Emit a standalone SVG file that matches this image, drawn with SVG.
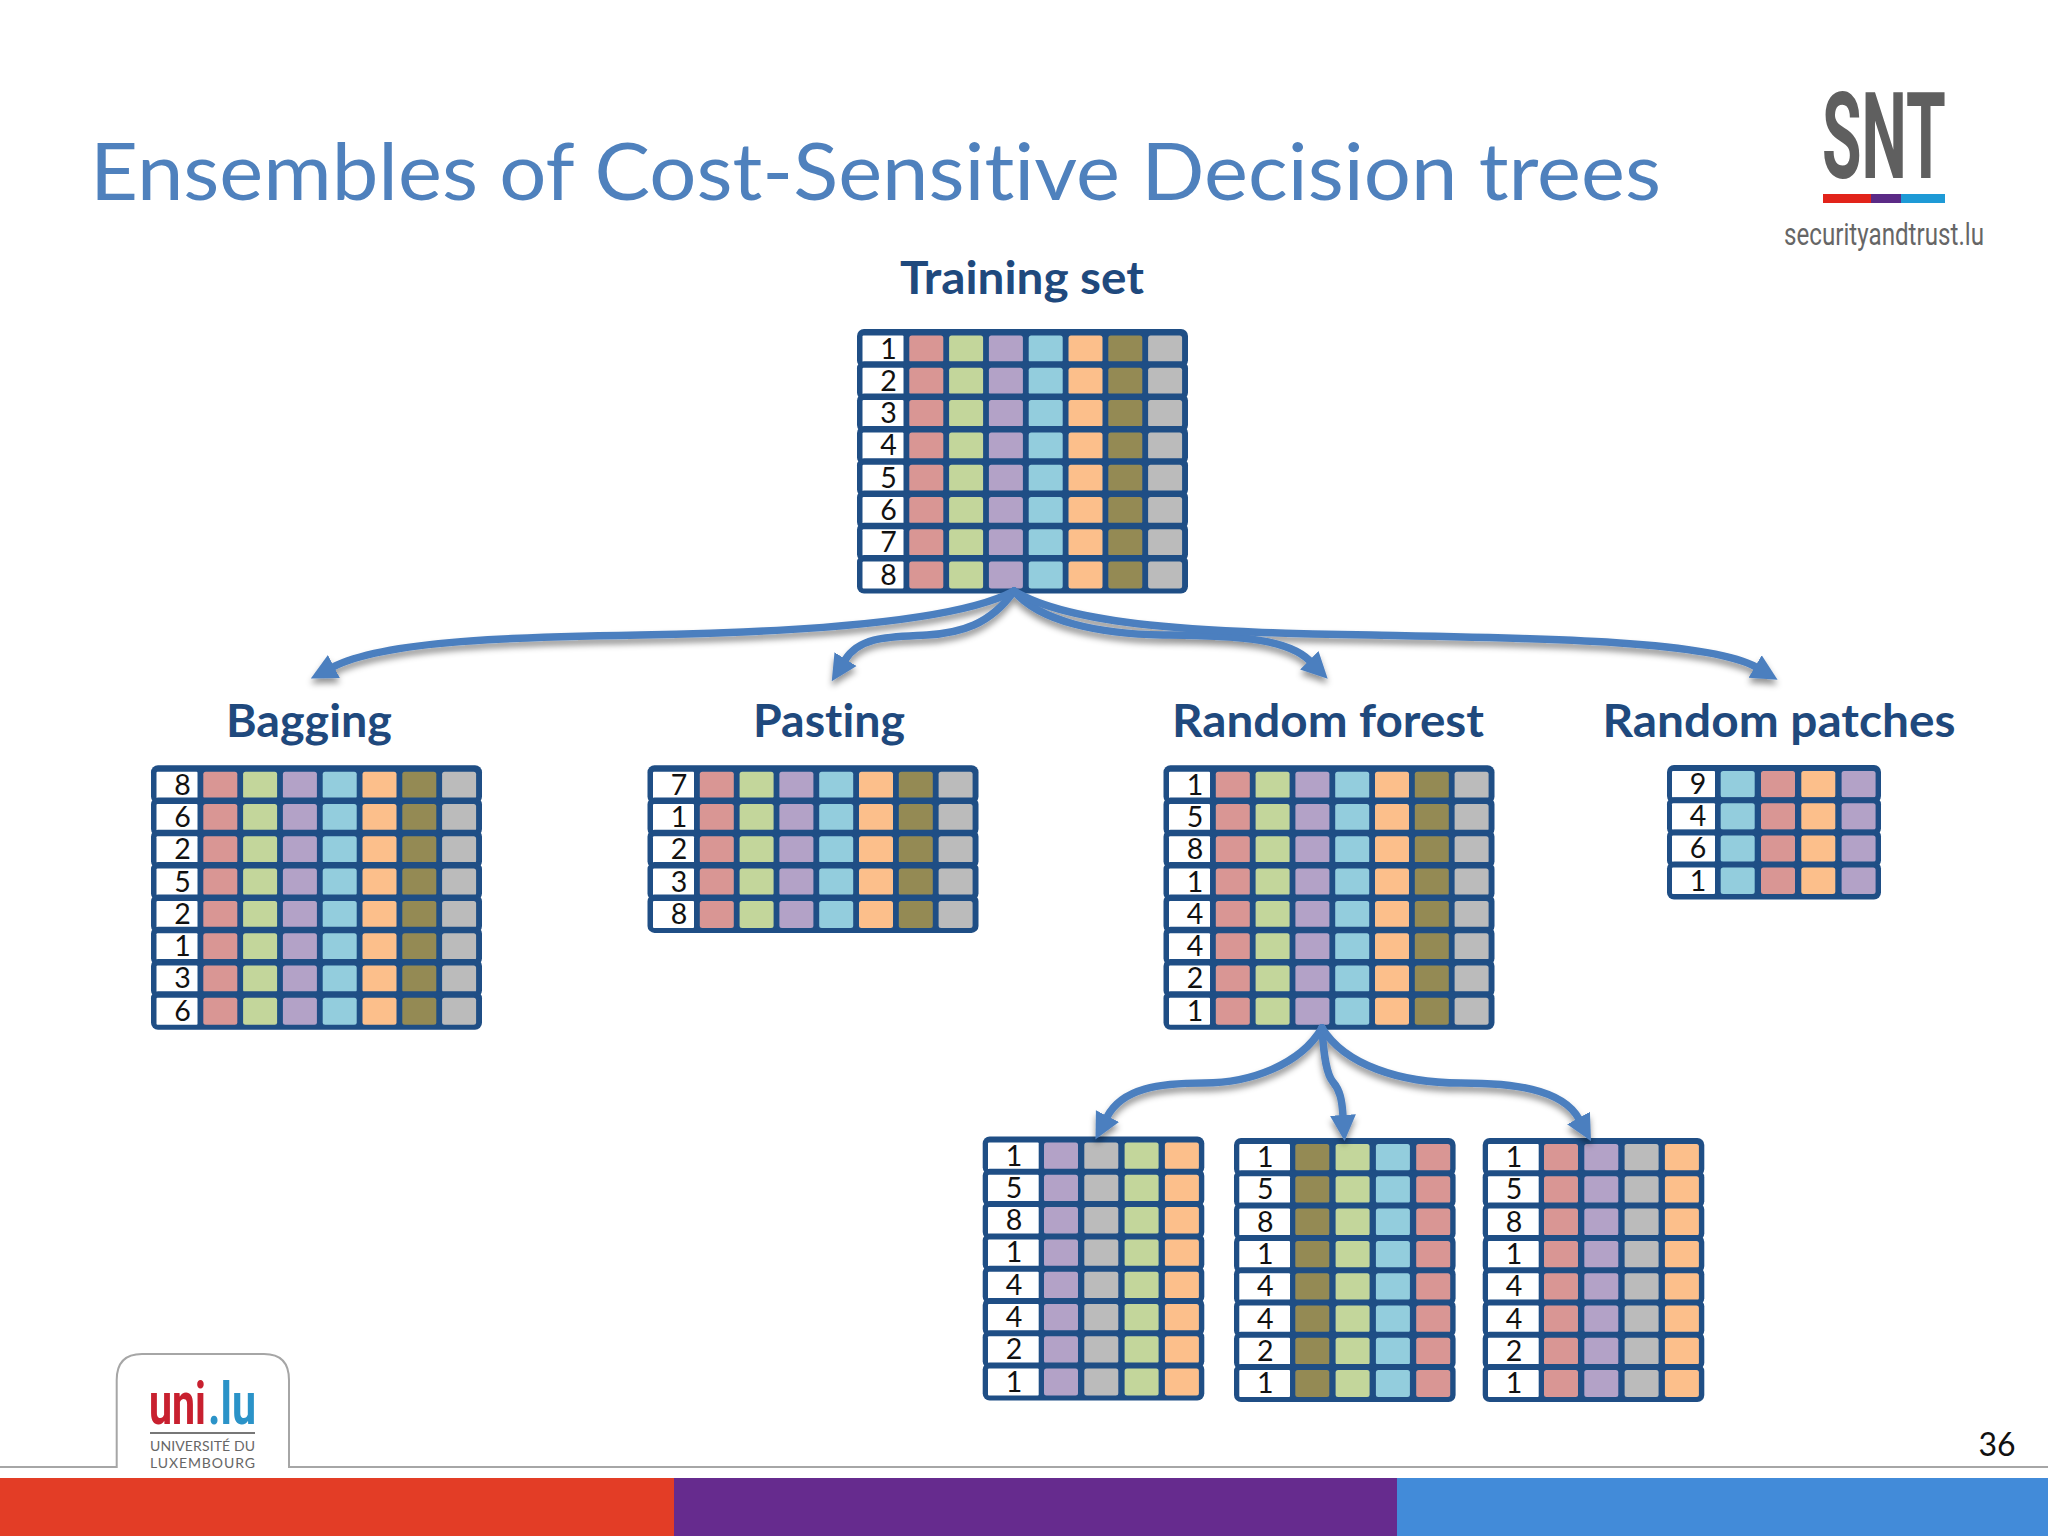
<svg xmlns="http://www.w3.org/2000/svg" width="2048" height="1536" viewBox="0 0 2048 1536">
<style>
.d{fill:#1f4e85}.w{fill:#fff}.r{fill:#d99694}.g{fill:#c3d69b}.p{fill:#b3a2c7}.c{fill:#93cddd}.o{fill:#fcbf8b}.l{fill:#948a54}.y{fill:#bbb}
.n{font:28.5px Lato,"Liberation Sans",sans-serif;fill:#111;text-anchor:middle}
.h{font:700 46px Lato,"Liberation Sans",sans-serif;fill:#1f497d}
text{font-variant-ligatures:none !important}
.a{fill:none;stroke:#4c7fbf;stroke-width:7.5;stroke-linecap:round}
</style>
<defs>
<marker id="head" markerUnits="userSpaceOnUse" markerWidth="28" markerHeight="30" refX="1" refY="15" orient="auto"><path d="M0,2 L26,15 L0,28z" fill="#4c7fbf"/></marker>
<filter id="shadow" x="-5%" y="-20%" width="110%" height="150%"><feDropShadow dx="0" dy="5" stdDeviation="3" flood-color="#000" flood-opacity=".42"/></filter>
<g id="r7"><rect class="d" x="-5.5" y="-6.5" width="331" height="38.5" rx="7"/><rect class="w" width="41" height="27" rx="1"/><rect class="r" x="46.8" width="34" height="27" rx="2.5"/><rect class="g" x="86.6" width="34" height="27" rx="2.5"/><rect class="p" x="126.4" width="34" height="27" rx="2.5"/><rect class="c" x="166.2" width="34" height="27" rx="2.5"/><rect class="o" x="206" width="34" height="27" rx="2.5"/><rect class="l" x="245.8" width="34" height="27" rx="2.5"/><rect class="y" x="285.6" width="34" height="27" rx="2.5"/></g>
<g id="rp"><rect class="d" x="-5" y="-6" width="214" height="38" rx="7"/><rect class="w" width="43" height="26.5" rx="1"/><rect class="c" x="48.7" width="34" height="26.5" rx="2.5"/><rect class="r" x="89" width="34" height="26.5" rx="2.5"/><rect class="o" x="129.3" width="34" height="26.5" rx="2.5"/><rect class="p" x="169.6" width="34" height="26.5" rx="2.5"/></g>
<g id="s1"><rect class="d" x="-5.3" y="-6" width="221.6" height="38" rx="7"/><rect class="w" width="50.7" height="27" rx="1"/><rect class="p" x="56" width="34" height="27" rx="2.5"/><rect class="y" x="96.3" width="34" height="27" rx="2.5"/><rect class="g" x="136.6" width="34" height="27" rx="2.5"/><rect class="o" x="176.9" width="34" height="27" rx="2.5"/></g>
<g id="s2"><rect class="d" x="-5.3" y="-6" width="221.6" height="38" rx="7"/><rect class="w" width="50.7" height="27" rx="1"/><rect class="l" x="56" width="34" height="27" rx="2.5"/><rect class="g" x="96.3" width="34" height="27" rx="2.5"/><rect class="c" x="136.6" width="34" height="27" rx="2.5"/><rect class="r" x="176.9" width="34" height="27" rx="2.5"/></g>
<g id="s3"><rect class="d" x="-5.3" y="-6" width="221.6" height="38" rx="7"/><rect class="w" width="50.7" height="27" rx="1"/><rect class="r" x="56" width="34" height="27" rx="2.5"/><rect class="p" x="96.3" width="34" height="27" rx="2.5"/><rect class="y" x="136.6" width="34" height="27" rx="2.5"/><rect class="o" x="176.9" width="34" height="27" rx="2.5"/></g>
</defs>
<rect width="2048" height="1536" fill="#fff"/>
<text x="90" y="200" font-family="Lato,'Liberation Sans',sans-serif" font-size="80" fill="#4f81bd" textLength="1571" lengthAdjust="spacingAndGlyphs">Ensembles of Cost-Sensitive Decision trees</text>

<g id="snt-logo">
<text transform="translate(1822,178) scale(.535,1)" font-family="Roboto,'Liberation Sans',sans-serif" font-weight="700" font-size="120" fill="#5f5f5f">SNT</text>
<rect x="1823" y="194" width="48" height="9" fill="#e2231a"/><rect x="1871" y="194" width="30" height="9" fill="#5b2a86"/><rect x="1901" y="194" width="44" height="9" fill="#1e9ad6"/>
<text x="1784" y="245" font-family="Roboto,'Liberation Sans',sans-serif" font-size="31" fill="#666" textLength="200" lengthAdjust="spacingAndGlyphs">securityandtrust.lu</text>
</g>

<g id="footer">
<rect y="1478" width="674" height="58" fill="#e33d26"/><rect x="674" y="1478" width="723" height="58" fill="#662b8e"/><rect x="1397" y="1478" width="651" height="58" fill="#428bd9"/>
<path d="M0,1467 H116.700 V1380 Q116.700,1354 142,1354 H264 Q289,1354 289,1380 V1467 H2048" fill="#fff" stroke="#a6a6a6" stroke-width="2"/>
<text x="1997" y="1456" font-family="Lato,'Liberation Sans',sans-serif" font-size="32" fill="#111" text-anchor="middle">36</text>
</g>

<g id="uni-logo">
<text x="149" y="1424" font-family="Roboto,'Liberation Sans',sans-serif" font-weight="700" font-size="60" fill="#c8202f" textLength="57" lengthAdjust="spacingAndGlyphs">uni</text>
<text x="208" y="1424" font-family="Roboto,'Liberation Sans',sans-serif" font-weight="700" font-size="60" fill="#2b93c8" textLength="48" lengthAdjust="spacingAndGlyphs">.lu</text>
<rect x="150" y="1432" width="105" height="2" fill="#777"/>
<text x="150" y="1451" font-family="Lato,'Liberation Sans',sans-serif" font-size="14" fill="#666" textLength="105">UNIVERSITÉ DU</text>
<text x="150" y="1468" font-family="Lato,'Liberation Sans',sans-serif" font-size="14" fill="#666" textLength="105">LUXEMBOURG</text>
</g>

<g id="training-set">
<text class="h" x="1022" y="294" text-anchor="middle" textLength="244" lengthAdjust="spacingAndGlyphs">Training set</text>
<g transform="translate(862.5,335.5)">
<use href="#r7"/><use href="#r7" y="32.3"/><use href="#r7" y="64.6"/><use href="#r7" y="96.9"/><use href="#r7" y="129.2"/><use href="#r7" y="161.5"/><use href="#r7" y="193.8"/><use href="#r7" y="226.1"/>
<text class="n" x="26" y="23">1</text><text class="n" x="26" y="55.3">2</text><text class="n" x="26" y="87.6">3</text><text class="n" x="26" y="119.9">4</text><text class="n" x="26" y="152.2">5</text><text class="n" x="26" y="184.5">6</text><text class="n" x="26" y="216.8">7</text><text class="n" x="26" y="249.1">8</text>
</g></g>

<g id="bagging">
<text class="h" x="309" y="737" text-anchor="middle" textLength="166" lengthAdjust="spacingAndGlyphs">Bagging</text>
<g transform="translate(156.5,771.7)">
<use href="#r7"/><use href="#r7" y="32.3"/><use href="#r7" y="64.6"/><use href="#r7" y="96.9"/><use href="#r7" y="129.2"/><use href="#r7" y="161.5"/><use href="#r7" y="193.8"/><use href="#r7" y="226.1"/>
<text class="n" x="26" y="23">8</text><text class="n" x="26" y="55.3">6</text><text class="n" x="26" y="87.6">2</text><text class="n" x="26" y="119.9">5</text><text class="n" x="26" y="152.2">2</text><text class="n" x="26" y="184.5">1</text><text class="n" x="26" y="216.8">3</text><text class="n" x="26" y="249.1">6</text>
</g></g>

<g id="pasting">
<text class="h" x="829" y="737" text-anchor="middle" textLength="152" lengthAdjust="spacingAndGlyphs">Pasting</text>
<g transform="translate(653,771.7)">
<use href="#r7"/><use href="#r7" y="32.3"/><use href="#r7" y="64.6"/><use href="#r7" y="96.9"/><use href="#r7" y="129.2"/>
<text class="n" x="26" y="23">7</text><text class="n" x="26" y="55.3">1</text><text class="n" x="26" y="87.6">2</text><text class="n" x="26" y="119.9">3</text><text class="n" x="26" y="152.2">8</text>
</g></g>

<g id="random-forest">
<text class="h" x="1328" y="737" text-anchor="middle" textLength="312" lengthAdjust="spacingAndGlyphs">Random forest</text>
<g transform="translate(1169,771.7)">
<use href="#r7"/><use href="#r7" y="32.3"/><use href="#r7" y="64.6"/><use href="#r7" y="96.9"/><use href="#r7" y="129.2"/><use href="#r7" y="161.5"/><use href="#r7" y="193.8"/><use href="#r7" y="226.1"/>
<text class="n" x="26" y="23">1</text><text class="n" x="26" y="55.3">5</text><text class="n" x="26" y="87.6">8</text><text class="n" x="26" y="119.9">1</text><text class="n" x="26" y="152.2">4</text><text class="n" x="26" y="184.5">4</text><text class="n" x="26" y="216.8">2</text><text class="n" x="26" y="249.1">1</text>
</g></g>

<g id="random-patches">
<text class="h" x="1779" y="737" text-anchor="middle" textLength="353" lengthAdjust="spacingAndGlyphs">Random patches</text>
<g transform="translate(1672,771)">
<use href="#rp"/><use href="#rp" y="32.2"/><use href="#rp" y="64.4"/><use href="#rp" y="96.6"/>
<text class="n" x="26" y="23">9</text><text class="n" x="26" y="55.2">4</text><text class="n" x="26" y="87.4">6</text><text class="n" x="26" y="119.6">1</text>
</g></g>

<g id="forest-tree-1" transform="translate(988,1142.500)">
<use href="#s1"/><use href="#s1" y="32.3"/><use href="#s1" y="64.6"/><use href="#s1" y="96.9"/><use href="#s1" y="129.2"/><use href="#s1" y="161.5"/><use href="#s1" y="193.8"/><use href="#s1" y="226.1"/>
<text class="n" x="26" y="23">1</text><text class="n" x="26" y="55.3">5</text><text class="n" x="26" y="87.6">8</text><text class="n" x="26" y="119.9">1</text><text class="n" x="26" y="152.2">4</text><text class="n" x="26" y="184.5">4</text><text class="n" x="26" y="216.8">2</text><text class="n" x="26" y="249.1">1</text>
</g>
<g id="forest-tree-2" transform="translate(1239.300,1144)">
<use href="#s2"/><use href="#s2" y="32.3"/><use href="#s2" y="64.6"/><use href="#s2" y="96.9"/><use href="#s2" y="129.2"/><use href="#s2" y="161.5"/><use href="#s2" y="193.8"/><use href="#s2" y="226.1"/>
<text class="n" x="26" y="23">1</text><text class="n" x="26" y="55.3">5</text><text class="n" x="26" y="87.6">8</text><text class="n" x="26" y="119.9">1</text><text class="n" x="26" y="152.2">4</text><text class="n" x="26" y="184.5">4</text><text class="n" x="26" y="216.8">2</text><text class="n" x="26" y="249.1">1</text>
</g>
<g id="forest-tree-3" transform="translate(1488,1144)">
<use href="#s3"/><use href="#s3" y="32.3"/><use href="#s3" y="64.6"/><use href="#s3" y="96.9"/><use href="#s3" y="129.2"/><use href="#s3" y="161.5"/><use href="#s3" y="193.8"/><use href="#s3" y="226.1"/>
<text class="n" x="26" y="23">1</text><text class="n" x="26" y="55.3">5</text><text class="n" x="26" y="87.6">8</text><text class="n" x="26" y="119.9">1</text><text class="n" x="26" y="152.2">4</text><text class="n" x="26" y="184.5">4</text><text class="n" x="26" y="216.8">2</text><text class="n" x="26" y="249.1">1</text>
</g>

<g id="connectors" filter="url(#shadow)">
<path class="a" marker-end="url(#head)" d="M1014,591 C960,620 820,632 640,635 C520,637 385,640 333,667"/>
<path class="a" marker-end="url(#head)" d="M1014,591 C990,625 960,633 927,635 C890,637 860,636 845,660"/>
<path class="a" marker-end="url(#head)" d="M1014,591 C1040,622 1100,634 1163,635 C1225,636 1285,636 1310,661"/>
<path class="a" marker-end="url(#head)" d="M1014,591 C1070,625 1200,633 1372,635 C1530,638 1710,640 1756,667"/>
<path class="a" marker-end="url(#head)" d="M1322,1028 C1300,1065 1250,1083 1204,1083 C1160,1083 1122,1088 1107,1117"/>
<path class="a" marker-end="url(#head)" d="M1322,1028 C1324,1060 1327,1075 1333,1082 C1340,1090 1342,1100 1343,1116"/>
<path class="a" marker-end="url(#head)" d="M1322,1028 C1345,1065 1400,1083 1461,1083 C1510,1083 1562,1088 1579,1119"/>
</g>
</svg>
